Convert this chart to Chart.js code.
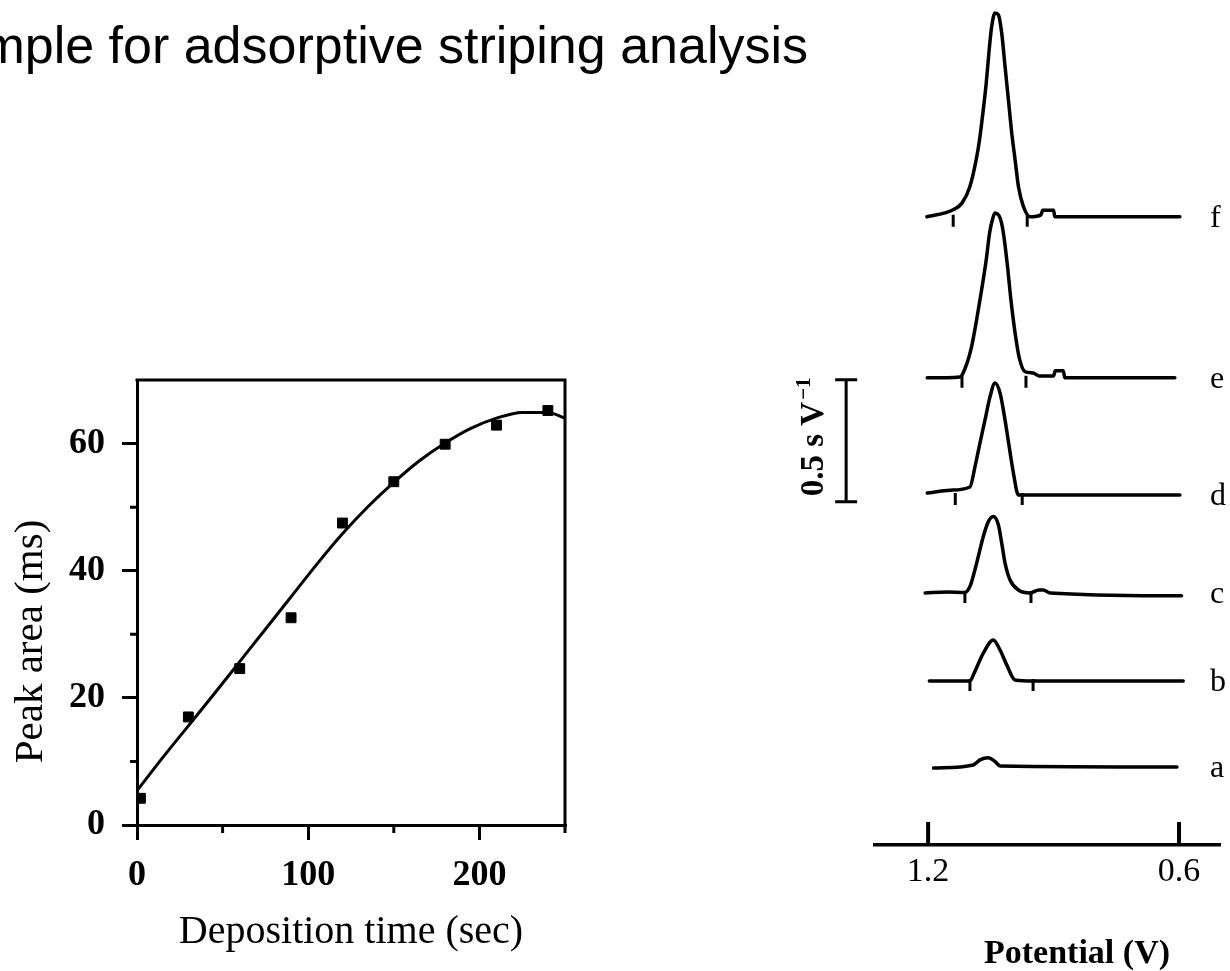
<!DOCTYPE html>
<html><head><meta charset="utf-8">
<script src="https://cdn.jsdelivr.net/npm/chart.js@4.4.1/dist/chart.umd.min.js"></script>
<style>
html,body{margin:0;padding:0;background:#fff;width:1230px;height:971px;overflow:hidden;position:relative}
#title{position:absolute;right:422px;top:19px;font:52px/1 "Liberation Sans",Arial,sans-serif;white-space:nowrap;color:#000}
#left{position:absolute;left:0;top:340px}
#right{position:absolute;left:760px;top:0}
</style></head><body>
<div id="title">Example for adsorptive striping analysis</div>
<canvas id="left" width="620" height="631"></canvas>
<canvas id="right" width="470" height="971"></canvas>
<script>
// ---------- Left panel data ----------
const depositionTimes = [2, 30, 60, 90, 120, 150, 180, 210, 240];
const peakAreas = [4.2, 17.0, 24.6, 32.6, 47.5, 54.0, 59.9, 62.9, 65.2];
const fitTimes = [0, 15, 30, 45, 60, 75, 90, 105, 120, 135, 150, 165, 180, 195, 210, 225, 240, 250];
const fitAreas = [5.4, 10.6, 15.6, 20.6, 25.7, 30.8, 35.9, 41.0, 45.8, 50.1, 53.9, 57.3, 60.1, 62.4, 64.0, 64.9, 64.9, 64.0];
const timeMajorTicks = [0, 100, 200];
const timeMinorTicks = [50, 150, 250];
const areaMajorTicks = [0, 20, 40, 60];
const areaMinorTicks = [10, 30, 50];

// ---------- Right panel data (potential V, signal s/V above own baseline) ----------
const traceNames = ['a', 'b', 'c', 'd', 'e', 'f'];
const traceBaselines = [0.320, 0.672, 1.033, 1.434, 1.914, 2.574];
const potentialA = [1.187, 1.092, 1.076, 1.056, 1.040, 1.028, 0.605];
const signalA    = [-0.005, 0.008, 0.029, 0.038, 0.022, 0.004, 0];
const potentialB = [1.197, 1.100, 1.090, 1.068, 1.044, 1.028, 1.012, 0.992, 0.948, 0.590];
const signalB    = [0, 0, 0.032, 0.114, 0.168, 0.127, 0.066, 0.004, 0, 0];
const potentialC = [1.207, 1.155, 1.112, 1.100, 1.090, 1.080, 1.068, 1.056, 1.044, 1.032, 1.024, 1.016, 1.004, 0.984, 0.956, 0.935, 0.925, 0.908, 0.594];
const signalC    = [0, 0.004, 0.002, 0.026, 0.082, 0.149, 0.231, 0.292, 0.313, 0.279, 0.204, 0.122, 0.053, 0.012, 0, 0.012, 0.012, 0, -0.012];
const potentialD = [1.202, 1.147, 1.100, 1.088, 1.076, 1.064, 1.052, 1.040, 1.028, 1.016, 1.006, 0.996, 0.984, 0.598];
const signalD    = [0.008, 0.020, 0.033, 0.115, 0.213, 0.307, 0.402, 0.459, 0.418, 0.307, 0.197, 0.090, 0.0, 0];
const potentialE = [1.202, 1.124, 1.107, 1.096, 1.084, 1.072, 1.061, 1.053, 1.045, 1.040, 1.028, 1.020, 1.010, 1.002, 0.992, 0.982, 0.968, 0.949, 0.935, 0.900, 0.896, 0.877, 0.873, 0.610];
const signalE    = [0, 0.004, 0.060, 0.128, 0.238, 0.361, 0.484, 0.594, 0.656, 0.676, 0.656, 0.594, 0.455, 0.320, 0.184, 0.082, 0.025, 0.020, 0.008, 0.008, 0.029, 0.029, 0, 0];
const potentialF = [1.203, 1.140, 1.119, 1.100, 1.085, 1.077, 1.069, 1.061, 1.054, 1.048, 1.040, 1.032, 1.024, 1.016, 1.008, 1.000, 0.992, 0.984, 0.972, 0.956, 0.930, 0.926, 0.900, 0.897, 0.598];
const signalF    = [0, 0.029, 0.056, 0.124, 0.234, 0.316, 0.425, 0.548, 0.684, 0.780, 0.835, 0.828, 0.753, 0.616, 0.480, 0.343, 0.234, 0.124, 0.042, 0, 0.008, 0.027, 0.027, 0, 0];
// small integration markers on each trace (potential, V)
const traceMarks = [[], [1.100, 0.949], [1.112, 0.954], [1.135, 0.975], [1.119, 0.966], [1.140, 0.963]];
const potentialTicks = [1.2, 0.6];
const scaleBarValue = 0.5;          // s V^-1
const scaleBarBase = 1.406;          // lower end of scale bar
const scaleBarPotential = 1.396;     // where the bar stands
const scaleLabelPotential = 1.451;

const serif = '"Liberation Serif", "Times New Roman", serif';

// ---------- Left chart ----------
const leftDecor = {
  id: 'leftDecor',
  afterDraw(chart) {
    const {ctx, chartArea: a, scales: {x, y}} = chart;
    ctx.save();
    ctx.strokeStyle = '#000';
    ctx.lineWidth = 3;
    ctx.beginPath();
    ctx.moveTo(a.left - 1.5, a.top);
    ctx.lineTo(a.right, a.top);
    ctx.lineTo(a.right, a.bottom);
    timeMinorTicks.forEach(v => { const px = x.getPixelForValue(v); ctx.moveTo(px, a.bottom); ctx.lineTo(px, a.bottom + 8); });
    areaMinorTicks.forEach(v => { const py = y.getPixelForValue(v); ctx.moveTo(a.left, py); ctx.lineTo(a.left - 7, py); });
    ctx.stroke();
    ctx.fillStyle = '#000';
    ctx.font = '41px ' + serif;
    ctx.translate(a.left - 106, (a.top + a.bottom) / 2 + 39);
    ctx.rotate(-Math.PI / 2);
    ctx.textAlign = 'center';
    ctx.textBaseline = 'middle';
    ctx.fillText('Peak area (ms)', 0, 0);
    ctx.restore();
  }
};

new Chart(document.getElementById('left'), {
  type: 'scatter',
  data: {
    datasets: [
      {
        data: fitTimes.map((t, i) => ({x: t, y: fitAreas[i]})),
        showLine: true, borderColor: '#000', borderWidth: 3, pointRadius: 0,
        cubicInterpolationMode: 'monotone', order: 2
      },
      {
        data: depositionTimes.map((t, i) => ({x: t, y: peakAreas[i]})),
        pointStyle: 'rect', pointRadius: 7, backgroundColor: '#000', borderColor: '#000', borderWidth: 1, order: 1
      }
    ]
  },
  options: {
    responsive: false, animation: false, events: [],
    layout: {padding: {left: 0, top: 40, right: 55, bottom: 0}},
    plugins: {legend: {display: false}, tooltip: {enabled: false}},
    scales: {
      x: {
        type: 'linear', min: 0, max: 250,
        afterBuildTicks: s => { s.ticks = timeMajorTicks.map(v => ({value: v})); },
        ticks: {font: {family: serif, size: 36, weight: 'bold', lineHeight: 1}, color: '#000', padding: 18, maxRotation: 0, autoSkip: false},
        grid: {drawOnChartArea: false, drawTicks: true, tickLength: 15, color: '#000', lineWidth: 3},
        border: {display: true, color: '#000', width: 3},
        title: {display: true, text: 'Deposition time (sec)', color: '#000', font: {family: serif, size: 40, lineHeight: 1.2}, padding: {top: 0, bottom: 15}},
        afterFit: s => { s.height = 146; }
      },
      y: {
        type: 'linear', min: 0, max: 70,
        afterBuildTicks: s => { s.ticks = areaMajorTicks.map(v => ({value: v})); },
        ticks: {font: {family: serif, size: 36, weight: 'bold', lineHeight: 1}, color: '#000', padding: 17, autoSkip: false},
        grid: {drawOnChartArea: false, drawTicks: true, tickLength: 15, color: '#000', lineWidth: 3},
        border: {display: true, color: '#000', width: 3},
        afterFit: s => { s.width = 137; }
      }
    }
  },
  plugins: [leftDecor]
});

// ---------- Right chart ----------
const traces = [
  [potentialA, signalA], [potentialB, signalB], [potentialC, signalC],
  [potentialD, signalD], [potentialE, signalE], [potentialF, signalF]
];

const rightDecor = {
  id: 'rightDecor',
  afterDraw(chart) {
    const {ctx, chartArea: a, scales: {x, y}} = chart;
    ctx.save();
    ctx.strokeStyle = '#000';
    ctx.fillStyle = '#000';
    // upward tick marks on potential axis
    ctx.lineWidth = 4;
    ctx.beginPath();
    potentialTicks.forEach(v => { const px = x.getPixelForValue(v); ctx.moveTo(px, a.bottom); ctx.lineTo(px, a.bottom - 23); });
    ctx.stroke();
    // integration markers on traces
    ctx.lineWidth = 3;
    ctx.beginPath();
    traceMarks.forEach((marks, i) => marks.forEach(v => {
      const px = x.getPixelForValue(v), py = y.getPixelForValue(traceBaselines[i]);
      ctx.moveTo(px, py - 2); ctx.lineTo(px, py + 10);
    }));
    ctx.stroke();
    // scale bar
    const bx = x.getPixelForValue(scaleBarPotential);
    const by0 = y.getPixelForValue(scaleBarBase);
    const by1 = y.getPixelForValue(scaleBarBase + scaleBarValue);
    ctx.lineWidth = 3;
    ctx.beginPath();
    ctx.moveTo(bx, by0); ctx.lineTo(bx, by1);
    ctx.moveTo(bx - 11, by0); ctx.lineTo(bx + 11, by0);
    ctx.moveTo(bx - 11, by1); ctx.lineTo(bx + 11, by1);
    ctx.stroke();
    // scale bar label
    ctx.save();
    ctx.translate(x.getPixelForValue(scaleLabelPotential), (by0 + by1) / 2 - 4);
    ctx.rotate(-Math.PI / 2);
    ctx.textBaseline = 'alphabetic';
    ctx.textAlign = 'left';
    const mainFont = 'bold 33px ' + serif, supFont = 'bold 21px ' + serif;
    ctx.font = mainFont; const w1 = ctx.measureText('0.5 s V').width;
    ctx.font = supFont; const w2 = ctx.measureText('\u22121').width;
    const start = -(w1 + w2 + 2) / 2;
    ctx.font = mainFont; ctx.fillText('0.5 s V', start, 0);
    ctx.font = supFont; ctx.fillText('\u22121', start + w1 + 2, -13);
    ctx.restore();
    // trace labels
    ctx.font = '32px ' + serif;
    ctx.textAlign = 'left';
    ctx.textBaseline = 'alphabetic';
    traceNames.forEach((n, i) => ctx.fillText(n, a.right - 10, y.getPixelForValue(traceBaselines[i]) + 10));
    // axis title
    ctx.font = 'bold 34px ' + serif;
    ctx.textAlign = 'center';
    ctx.textBaseline = 'middle';
    ctx.fillText('Potential (V)', a.right - 143, chart.height - 17);
    ctx.restore();
  }
};

new Chart(document.getElementById('right'), {
  type: 'scatter',
  data: {
    datasets: traces.map((t, i) => ({
      data: t[0].map((v, j) => ({x: v, y: traceBaselines[i] + t[1][j]})),
      showLine: true, borderColor: '#000', borderWidth: 3.5, pointRadius: 0,
      cubicInterpolationMode: 'monotone', borderJoinStyle: 'round', borderCapStyle: 'round'
    }))
  },
  options: {
    responsive: false, animation: false, events: [],
    layout: {padding: {left: 115, right: 10, top: 3, bottom: 0}},
    plugins: {legend: {display: false}, tooltip: {enabled: false}},
    scales: {
      x: {
        type: 'linear', reverse: true, min: 0.502, max: 1.327,
        afterBuildTicks: s => { s.ticks = potentialTicks.map(v => ({value: v})); },
        ticks: {callback: v => Number(v).toFixed(1), font: {family: serif, size: 34, lineHeight: 1}, color: '#000', padding: 10, maxRotation: 0, autoSkip: false},
        grid: {drawOnChartArea: false, drawTicks: false},
        border: {display: true, color: '#000', width: 3.5},
        afterFit: s => { s.height = 126; }
      },
      y: {display: false, min: 0, max: 3.45}
    }
  },
  plugins: [rightDecor]
});
</script>
</body></html>
